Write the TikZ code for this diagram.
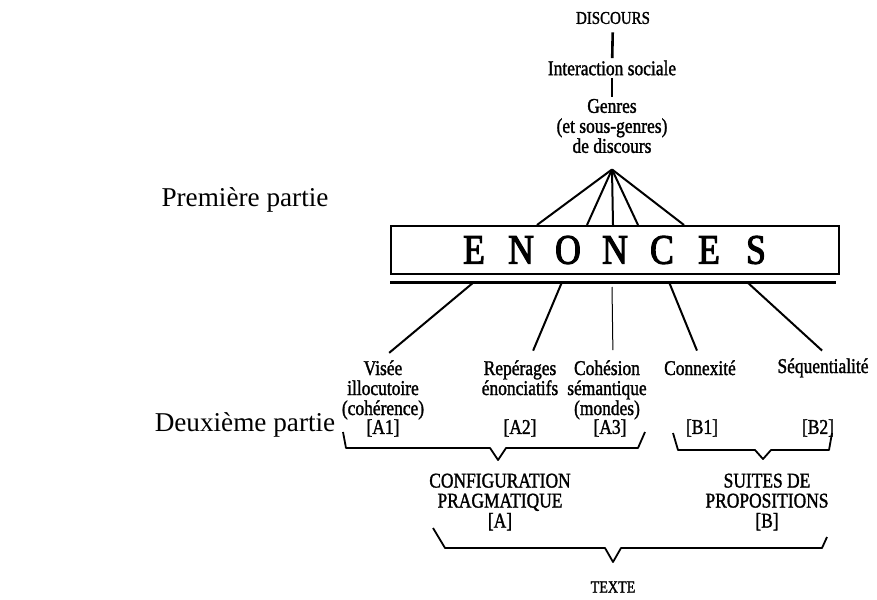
\documentclass[tikz,border=0pt]{standalone}
\usepackage{fontspec}
\setmainfont{Liberation Serif}
\newfontfamily\scanfont[FakeStretch=0.83,FakeBold=1.4]{Liberation Serif}
\newfontfamily\bigfont[FakeStretch=0.85,FakeBold=2.5]{Liberation Serif}
\usetikzlibrary{positioning,calc}

\begin{document}
\begin{tikzpicture}[
x=0.5pt, y=-0.5pt,
lbl/.style={font=\scanfont\fontsize{10.5}{10}\selectfont, align=center, inner sep=1pt},
lblsmall/.style={lbl, font=\scanfont\fontsize{9}{10}\selectfont},
part/.style={font=\fontsize{13.6}{16}\selectfont},
link/.style={line width=1pt, shorten >=4pt},
brace/.style={line width=0.9pt, line join=round},
ebox/.style={draw, line width=1pt, minimum width=224pt, minimum height=24pt, inner sep=0pt}
]
\useasboundingbox (0,0) rectangle (877,599);

% left column
\node[part] (p1) at (245,200) {Première partie};
\node[part] (p2) at (245,425) {Deuxième partie};

% upper chain
\node[lblsmall] (discours) at (613,18) {DISCOURS};
\node[lbl] (inter) at (612,68) {Interaction sociale};
\node[lbl] (genres) at (612,126) {Genres\\(et sous-genres)\\de discours};
\coordinate (apex) at ([yshift=-7pt]genres.south);

\node[ebox] (enonces) at (615,250) {\bigfont\fontsize{21}{21}\selectfont
  \makebox[23.5pt]{E}\makebox[23.5pt]{N}\makebox[23.5pt]{O}\makebox[23.5pt]{N}%
  \makebox[23.5pt]{C}\makebox[23.5pt]{E}\makebox[23.5pt]{S}};
\coordinate (ul) at ([yshift=-3.5pt]enonces.south west);
\draw[line width=1.5pt] (ul) -- ([yshift=-3.5pt,xshift=-2pt]enonces.south east);

\draw[line width=1.3pt, shorten <=3pt] (discours) -- (inter);
\draw[line width=1.3pt] (inter) -- (genres);
\foreach \fx in {537,587,613,638,684}
  \draw[line width=1pt] (apex) -- (\fx,0 |- enonces.north);

% second level
\node[lbl, anchor=north] (visee) at (383,358) {Visée\\illocutoire\\(cohérence)};
\node[lbl, anchor=north] (reperages) at (520,358) {Repérages\\énonciatifs};
\node[lbl, anchor=north] (cohesion) at (607,358) {Cohésion\\sémantique\\(mondes)};
\node[lbl, anchor=north] (connex) at (700,358) {Connexité};
\node[lbl, anchor=north] (sequ) at (823,356) {Séquentialité};

\draw[link] ([xshift=42pt]ul) -- (visee.north);
\draw[link] ([xshift=86pt]ul) -- ([xshift=5pt]reperages.north);
\draw[line width=0.5pt, shorten >=4pt] ([xshift=111pt,yshift=-2.5pt]ul) -- (613,0 |- cohesion.north);
\draw[link] ([xshift=139.5pt]ul) -- (connex.north);
\draw[link] ([xshift=178.5pt]ul) -- ([xshift=2.5pt]sequ.north);

\node[lbl] (a1) at (383,428) {[A1]};
\node[lbl] (a2) at (520,428) {[A2]};
\node[lbl] (a3) at (610,428) {[A3]};
\node[lbl] (b1) at (702,428) {[B1]};
\node[lbl] (b2) at (818,428) {[B2]};

% braces
\draw[brace] (343,432) -- (346,448) -- (490,448) -- (498,460) -- (506,448) -- (638,448) -- (645,432);
\draw[brace] (673,433) -- (678,450) -- (755,450) -- (763,459) -- (771,450) -- (829,450) -- (832,433);
\draw[brace] (433,528) -- (445,548) -- (605,548) -- (613,562) -- (621,548) -- (822,548) -- (827,537);

\node[lbl] (configA) at (500,502) {CONFIGURATION\\PRAGMATIQUE\\{[A]}};
\node[lbl] (suitesB) at (767,502) {SUITES DE\\PROPOSITIONS\\{[B]}};
\node[lblsmall, font=\scanfont\fontsize{8.5}{10}\selectfont] (texte) at (613,587) {TEXTE};
\end{tikzpicture}
\end{document}
